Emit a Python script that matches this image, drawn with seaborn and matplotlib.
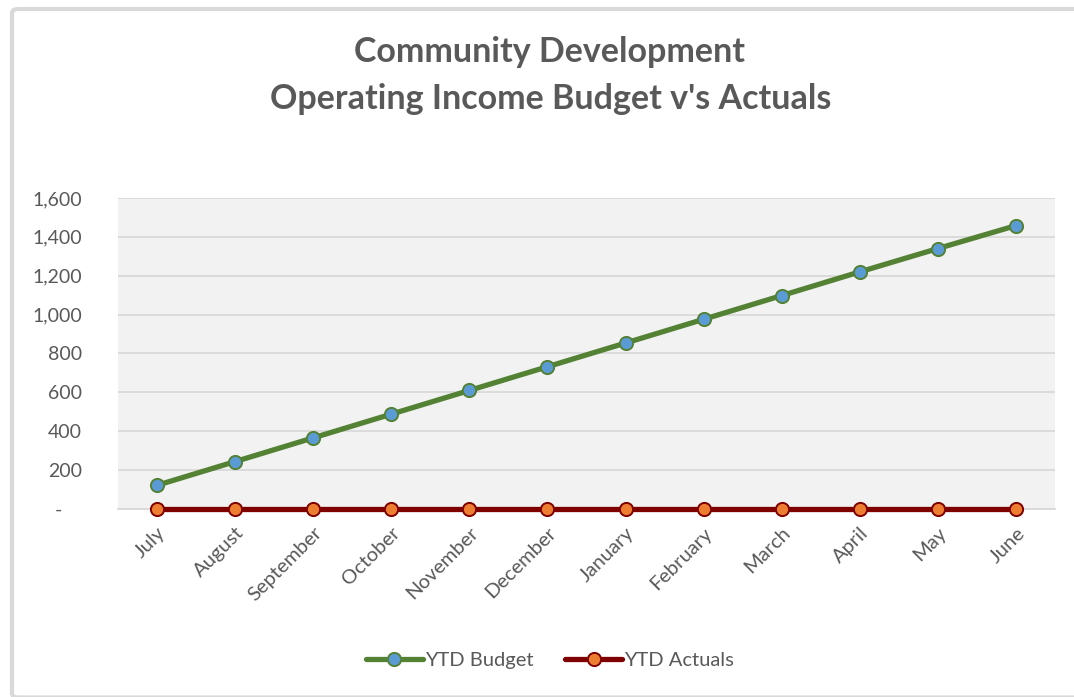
import matplotlib
matplotlib.use("Agg")
import matplotlib.pyplot as plt
from matplotlib.patches import FancyBboxPatch
from matplotlib.lines import Line2D
from matplotlib.ticker import FuncFormatter
import seaborn as sns
import pandas as pd

months = ["July", "August", "September", "October", "November", "December",
          "January", "February", "March", "April", "May", "June"]
ytd_budget = [122, 244, 366, 488, 610, 732, 854, 976, 1098, 1220, 1340, 1458]
ytd_actuals = [0, 0, 0, 0, 0, 0, 0, 0, 0, 0, 0, 0]
y_ticks = [0, 200, 400, 600, 800, 1000, 1200, 1400, 1600]

sns.set_theme(style="white")
plt.rcParams["font.family"] = ["Lato", "DejaVu Sans"]

TEXT = "#595959"
GRID = "#D9D9D9"
GREEN, BLUE = "#548235", "#5B9BD5"
DARKRED, ORANGE = "#7F0000", "#ED7D31"

fig = plt.figure(figsize=(10.74, 6.97), dpi=100)
W, H = 1074, 697

# chart border
frame = FancyBboxPatch((12 / W, 1 - 697.5 / H), 1.2, 688.5 / H,
                       boxstyle="round,pad=0,rounding_size=0.006",
                       transform=fig.transFigure, facecolor="white",
                       edgecolor="#D9D9D9", linewidth=3, zorder=-5)
fig.patches.append(frame)

ax = fig.add_axes([118 / W, 1 - 509 / H, (1055 - 118) / W, (509 - 198) / H])
ax.set_facecolor("#F2F2F2")

df = pd.DataFrame({"Month": months, "YTD Budget": ytd_budget, "YTD Actuals": ytd_actuals})
pos = list(range(len(months)))

sns.lineplot(x=pos, y=df["YTD Budget"], ax=ax, color=GREEN, linewidth=3.8,
             marker="o", markersize=9.5, markerfacecolor=BLUE,
             markeredgecolor=GREEN, markeredgewidth=1.4, zorder=4)
sns.lineplot(x=pos, y=df["YTD Actuals"], ax=ax, color=DARKRED, linewidth=3.8,
             marker="o", markersize=9.5, markerfacecolor=ORANGE,
             markeredgecolor=DARKRED, markeredgewidth=1.4, zorder=5,
             clip_on=False)

ax.set_xlim(-0.5, len(months) - 0.5)
ax.set_ylim(0, 1600)
ax.set_yticks(y_ticks)
ax.yaxis.set_major_formatter(FuncFormatter(lambda v, p: "-    " if v == 0 else f"{v:,.0f}"))
ax.set_xticks(pos)
ax.set_xticklabels(months, rotation=45, ha="right", rotation_mode="anchor")
ax.grid(axis="y", color=GRID, linewidth=1.3)
ax.set_axisbelow(True)
for s in ["top", "right", "left"]:
    ax.spines[s].set_visible(False)
ax.spines["bottom"].set_color(GRID)
ax.spines["bottom"].set_linewidth(1.3)
ax.tick_params(axis="both", length=0, labelcolor=TEXT)
ax.tick_params(axis="y", pad=26, labelsize=14)
ax.tick_params(axis="x", pad=11, labelsize=14.5)
ax.set_xlabel("")
ax.set_ylabel("")

fig.text(0.512, 1 - 52 / H, "Community Development", ha="center", va="center",
         fontsize=24.5, fontweight="bold", color=TEXT)
fig.text(0.513, 1 - 99 / H, "Operating Income Budget v's Actuals", ha="center", va="center",
         fontsize=24.5, fontweight="bold", color=TEXT)

handles = [
    Line2D([], [], color=GREEN, linewidth=3.8, marker="o", markersize=9.5,
           markerfacecolor=BLUE, markeredgecolor=GREEN, markeredgewidth=1.4),
    Line2D([], [], color=DARKRED, linewidth=3.8, marker="o", markersize=9.5,
           markerfacecolor=ORANGE, markeredgecolor=DARKRED, markeredgewidth=1.4),
]
fig.legend(handles, ["YTD Budget", "YTD Actuals"], loc="center",
           bbox_to_anchor=(0.512, 1 - 660 / H), ncol=2, frameon=False,
           fontsize=14.5, labelcolor=TEXT, handlelength=2.8, handletextpad=0.1,
           columnspacing=1.6)

fig.savefig("out.png", dpi=100)
